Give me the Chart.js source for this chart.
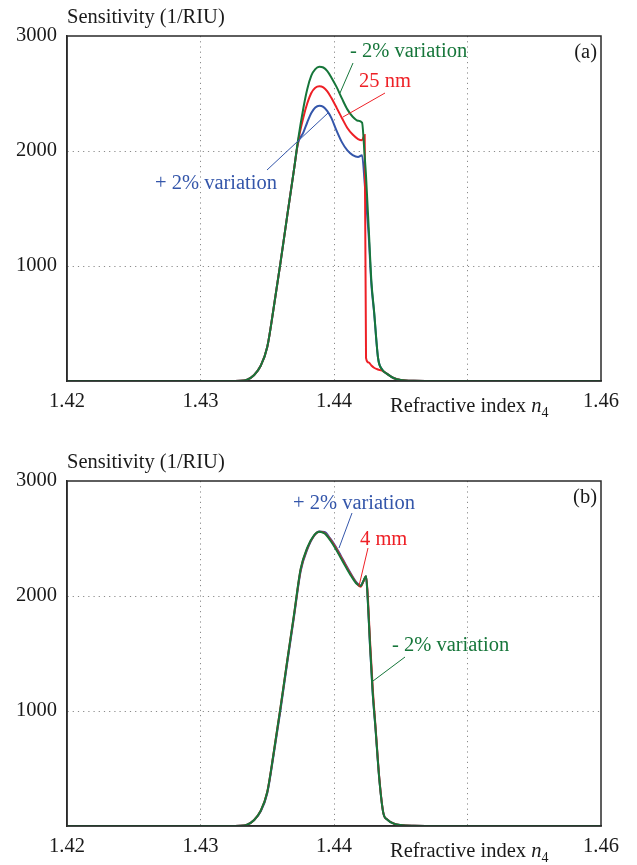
<!DOCTYPE html>
<html><head><meta charset="utf-8">
<script src="https://cdn.jsdelivr.net/npm/chart.js@4.4.1/dist/chart.umd.min.js"></script>
<style>
html,body{margin:0;padding:0;background:#fff;width:637px;height:865px;overflow:hidden}
#wa{position:absolute;left:0;top:0;width:637px;height:440px}
#wb{position:absolute;left:0;top:445px;width:637px;height:420px}
</style></head><body>
<div id="wa"><canvas id="ca"></canvas></div>
<div id="wb"><canvas id="cb"></canvas></div>
<script>
// ---- tick values / labels ----
const xTickValues = [1.42, 1.43, 1.44, 1.45, 1.46];
const xTickLabels = ['1.42', '1.43', '1.44', '', '1.46'];
const yTickValues = [0, 1000, 2000, 3000];
const yTickLabels = ['', '1000', '2000', '3000'];

// ---- panel (a): refractive index n4 and sensitivity (1/RIU) ----
const xA = [1.420, 1.425, 1.430, 1.432, 1.4330, 1.4335, 1.4340, 1.4345, 1.4350, 1.4355, 1.4360, 1.4365, 1.4370, 1.4373,
            1.4377, 1.4380, 1.4383, 1.4386, 1.4389, 1.4392, 1.4395, 1.4398, 1.4402, 1.4406, 1.4410, 1.4414, 1.4418, 1.4421,
            1.4423, 1.4424, 1.4426, 1.4428, 1.4430, 1.4433, 1.4436, 1.4440, 1.4445, 1.4450, 1.4460, 1.4480, 1.4500, 1.4550, 1.4600];
const greenA = [0, 0, 0, 0, 2, 12, 50, 130, 295, 650, 1035, 1440, 1835, 2090,
                2370, 2540, 2655, 2712, 2732, 2726, 2695, 2640, 2555, 2455, 2362, 2298, 2263, 2247,
                1950, 1780, 1330, 870, 610, 200, 100, 60, 24, 9, 2, 0, 0, 0, 0];
const redA   = [0, 0, 0, 0, 2, 12, 50, 130, 295, 650, 1035, 1440, 1835, 2075,
                2290, 2415, 2505, 2550, 2563, 2553, 2518, 2462, 2375, 2285, 2200, 2143, 2104, 2094,
                2140, 200, 160, 135, 115, 100, 90, 60, 24, 9, 2, 0, 0, 0, 0];
const blueA  = [0, 0, 0, 0, 2, 12, 50, 130, 295, 650, 1035, 1440, 1835, 2065,
                2160, 2250, 2330, 2378, 2394, 2384, 2346, 2288, 2175, 2075, 2005, 1965, 1948, 1964,
                1720, 1560, 1260, 840, 600, 200, 100, 60, 24, 9, 2, 0, 0, 0, 0];

// ---- panel (b) ----
const xB = [1.420, 1.425, 1.430, 1.432, 1.433, 1.4335, 1.434, 1.4345, 1.435, 1.4355, 1.436, 1.4365, 1.437, 1.4375,
            1.438, 1.4385, 1.4389, 1.4393, 1.4397, 1.4401, 1.4405, 1.4409, 1.4413, 1.4417, 1.4420, 1.4422, 1.4424,
            1.4425, 1.4427, 1.4429, 1.4431, 1.4434, 1.4437, 1.4440, 1.4445, 1.4450, 1.4460, 1.4480, 1.4500, 1.4550, 1.4600];
const greenB = [0, 0, 0, 0, 2, 12, 50, 130, 295, 650, 1035, 1440, 1835, 2235,
                2420, 2527, 2559, 2543, 2487, 2415, 2333, 2250, 2172, 2106, 2087, 2130, 2174,
                2030, 1570, 1160, 865, 400, 110, 55, 20, 8, 2, 0, 0, 0, 0];
const redB   = [0, 0, 0, 0, 2, 12, 50, 130, 295, 650, 1035, 1440, 1830, 2228,
                2415, 2524, 2558, 2548, 2495, 2425, 2343, 2260, 2180, 2110, 2080, 2125, 2170,
                2060, 1610, 1200, 880, 410, 112, 55, 20, 8, 2, 0, 0, 0, 0];
const blueB  = [0, 0, 0, 0, 2, 12, 50, 125, 285, 635, 1015, 1420, 1815, 2215,
                2405, 2522, 2560, 2556, 2503, 2435, 2353, 2268, 2187, 2117, 2092, 2128, 2172,
                2030, 1560, 1150, 860, 400, 110, 55, 20, 8, 2, 0, 0, 0, 0];

const GREEN = 'rgb(22,118,58)';
const RED = 'rgb(238,32,38)';
const BLUE = 'rgb(52,86,170)';
const FONT = '"Liberation Serif", "Times New Roman", serif';
const FS = 20.5;

function pts(xs, ys) { return xs.map((x, i) => ({ x: x, y: ys[i] })); }

const decoPlugin = {
  id: 'deco',
  afterDraw(chart, args, opts) {
    const ctx = chart.ctx, a = chart.chartArea;
    ctx.save();
    // frame
    ctx.strokeStyle = '#2a2a2a';
    ctx.lineWidth = 1.5;
    ctx.strokeRect(a.left, a.top, a.right - a.left, a.bottom - a.top);
    // y title
    ctx.fillStyle = '#1a1a1a';
    ctx.font = FS + 'px ' + FONT;
    ctx.textBaseline = 'alphabetic';
    ctx.textAlign = 'left';
    ctx.fillText('Sensitivity (1/RIU)', a.left, a.top - 13);
    // panel tag
    ctx.textAlign = 'right';
    ctx.fillText(opts.tag, a.right - 4, a.top + 22);
    // x title
    ctx.textAlign = 'left';
    let x = 390, y = a.bottom + 31;
    const t1 = 'Refractive index ';
    ctx.fillText(t1, x, y);
    x += ctx.measureText(t1).width;
    ctx.font = 'italic ' + FS + 'px ' + FONT;
    ctx.fillText('n', x, y);
    x += ctx.measureText('n').width;
    ctx.font = '14px ' + FONT;
    ctx.fillText('4', x, y + 5);
    // annotations
    ctx.font = FS + 'px ' + FONT;
    opts.notes.forEach(n => {
      ctx.strokeStyle = n.color;
      ctx.lineWidth = 1;
      ctx.beginPath();
      ctx.moveTo(n.line[0], n.line[1]);
      ctx.lineTo(n.line[2], n.line[3]);
      ctx.stroke();
      ctx.fillStyle = n.color;
      ctx.textAlign = 'left';
      ctx.fillText(n.text, n.tx, n.ty);
    });
    ctx.restore();
  }
};

function makeChart(id, xs, g, r, b, H, tag, notes) {
  const gridColor = (c) => {
    const v = c.tick ? c.tick.value : null;
    return (v === 1.42 || v === 1.46 || v === 0 || v === 3000) ? 'rgba(0,0,0,0)' : '#8a8a8a';
  };
  return new Chart(document.getElementById(id), {
    type: 'line',
    data: {
      datasets: [
        { label: '- 2% variation', data: pts(xs, g), borderColor: GREEN, borderWidth: 2 },
        { label: 'nominal', data: pts(xs, r), borderColor: RED, borderWidth: 2 },
        { label: '+ 2% variation', data: pts(xs, b), borderColor: BLUE, borderWidth: 2 }
      ]
    },
    options: {
      responsive: true,
      maintainAspectRatio: false,
      animation: false,
      devicePixelRatio: 1,
      layout: { padding: { top: 36, right: 36, left: 0, bottom: 0 } },
      elements: { point: { radius: 0 }, line: { cubicInterpolationMode: 'monotone', fill: false } },
      plugins: { legend: { display: false }, tooltip: { enabled: false }, deco: { tag: tag, notes: notes } },
      scales: {
        x: {
          type: 'linear', min: 1.42, max: 1.46,
          afterBuildTicks: s => { s.ticks = xTickValues.map(v => ({ value: v })); },
          afterFit: s => { s.height = H - 381; },
          ticks: { autoSkip: false, maxRotation: 0, padding: 8, color: '#1a1a1a', font: { family: FONT, size: FS },
                   callback: (v, i) => xTickLabels[i] },
          grid: { color: gridColor, lineWidth: 1, drawTicks: false },
          border: { display: true, color: '#2a2a2a', width: 1.5, dash: [1.2, 4] }
        },
        y: {
          min: 0, max: 3000,
          afterBuildTicks: s => { s.ticks = yTickValues.map(v => ({ value: v })); },
          afterFit: s => { s.width = 67; },
          ticks: { autoSkip: false, padding: 10, color: '#1a1a1a', font: { family: FONT, size: FS },
                   callback: (v, i) => yTickLabels[i] },
          grid: { color: gridColor, lineWidth: 1, drawTicks: false },
          border: { display: true, color: '#2a2a2a', width: 1.5, dash: [1.2, 4] }
        }
      }
    },
    plugins: [decoPlugin]
  });
}

makeChart('ca', xA, greenA, redA, blueA, 440, '(a)', [
  { text: '- 2% variation', color: GREEN, tx: 350, ty: 57, line: [353, 63, 340, 93] },
  { text: '25 nm', color: RED, tx: 359, ty: 87, line: [385, 93, 343, 117] },
  { text: '+ 2% variation', color: BLUE, tx: 155, ty: 189, line: [267, 170, 328, 113] }
]);
makeChart('cb', xB, greenB, redB, blueB, 420, '(b)', [
  { text: '+ 2% variation', color: BLUE, tx: 293, ty: 64, line: [352, 68, 339, 103] },
  { text: '4 mm', color: RED, tx: 360, ty: 100, line: [368, 103, 359, 141] },
  { text: '- 2% variation', color: GREEN, tx: 392, ty: 206, line: [405, 212, 373, 236] }
]);
</script>
</body></html>
